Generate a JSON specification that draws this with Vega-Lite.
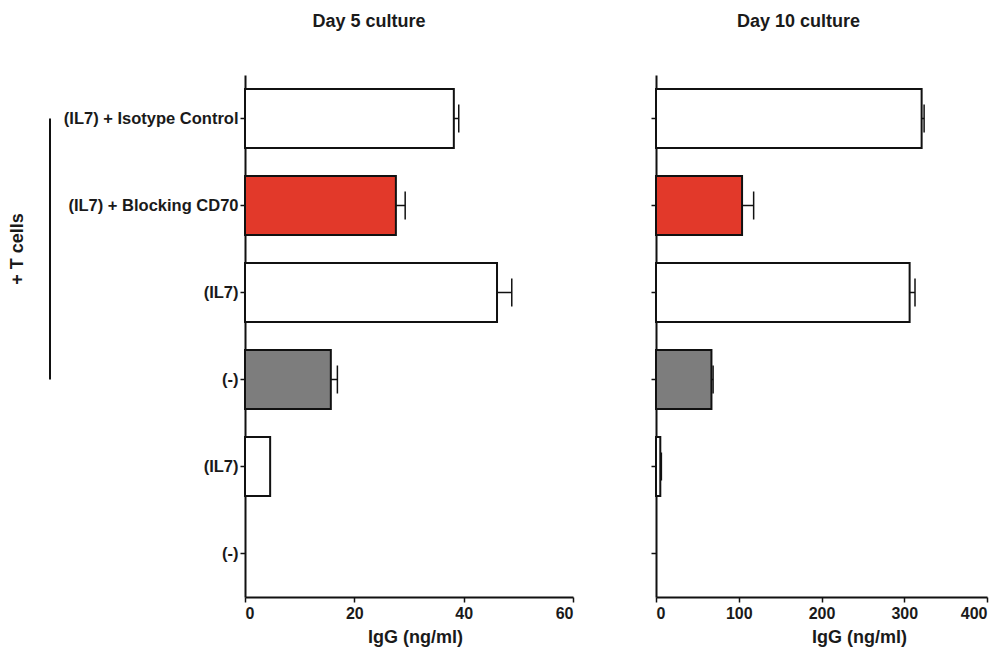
{
  "$schema": "https://vega.github.io/schema/vega-lite/v6.json",
  "padding": {"left": 9, "top": 13, "right": 5, "bottom": 5},
  "config": {
    "view": {"stroke": null},
    "font": "Liberation Sans",
    "axis": {"domainColor": "#111111", "domainWidth": 2, "tickColor": "#111111", "tickWidth": 1.5, "tickSize": 5, "labelFont": "Liberation Sans", "labelFontWeight": "bold", "labelColor": "#1a1a1a", "titleFont": "Liberation Sans", "titleFontWeight": "bold", "titleColor": "#1a1a1a", "grid": false},
    "title": {"font": "Liberation Sans", "fontWeight": "bold", "fontSize": 18, "color": "#1a1a1a"}
  },
  "datasets": {
    "day5": [
      {"row": 1, "value": 38.2, "err": 39.1, "kind": "plain"},
      {"row": 2, "value": 27.6, "err": 29.3, "kind": "blocking"},
      {"row": 3, "value": 46.1, "err": 48.8, "kind": "plain"},
      {"row": 4, "value": 15.7, "err": 16.9, "kind": "none"},
      {"row": 5, "value": 4.6, "err": 4.6, "kind": "plain"},
      {"row": 6, "value": 0, "err": 0, "kind": "plain"}
    ],
    "day10": [
      {"row": 1, "value": 321, "err": 324, "kind": "plain"},
      {"row": 2, "value": 104, "err": 118, "kind": "blocking"},
      {"row": 3, "value": 306.5, "err": 313, "kind": "plain"},
      {"row": 4, "value": 67, "err": 69, "kind": "none"},
      {"row": 5, "value": 5.2, "err": 6.5, "kind": "plain"},
      {"row": 6, "value": 0, "err": 0, "kind": "plain"}
    ],
    "group": [{"label": "+ T cells", "start": 0.5, "end": 3.5, "mid": 2, "pos": 0, "line": 1}]
  },
  "spacing": 12,
  "hconcat": [
    {
      "width": 32,
      "height": 522,
      "data": {"name": "group"},
      "layer": [
        {
          "mark": {"type": "rule", "stroke": "#111111", "strokeWidth": 2},
          "encoding": {
            "x": {"field": "line", "type": "quantitative", "scale": {"domain": [0, 1], "nice": false}, "axis": null},
            "y": {"field": "start", "type": "quantitative", "scale": {"domain": [0, 6], "nice": false, "reverse": true}, "axis": null},
            "y2": {"field": "end"}
          }
        },
        {
          "mark": {"type": "text", "angle": 270, "fontSize": 18, "fontWeight": "bold", "font": "Liberation Sans", "color": "#1a1a1a", "align": "center", "baseline": "middle"},
          "encoding": {
            "x": {"field": "pos", "type": "quantitative", "scale": {"domain": [0, 1], "nice": false}, "axis": null},
            "y": {"field": "mid", "type": "quantitative", "scale": {"domain": [0, 6], "nice": false, "reverse": true}, "axis": null},
            "text": {"field": "label"}
          }
        }
      ]
    },
    {
      "spacing": 76,
      "hconcat": [
        {
          "width": 328,
          "height": 522,
          "title": {"text": "Day 5 culture", "offset": 44, "dx": -40, "frame": "group"},
          "data": {"name": "day5"},
          "encoding": {
            "y": {"field": "row", "type": "ordinal", "scale": {"paddingInner": 0.32, "paddingOuter": 0.16},
              "axis": {"title": null, "labelExpr": "['(IL7) + Isotype Control','(IL7) + Blocking CD70','(IL7)','(-)','(IL7)','(-)'][datum.value-1]", "labelFontSize": 16.5, "labelPadding": 2}}
          },
          "layer": [
            {
              "mark": {"type": "bar", "stroke": "#111111", "strokeWidth": 2},
              "encoding": {
                "x": {"field": "value", "type": "quantitative", "scale": {"domain": [0, 60], "nice": false},
                  "axis": {"values": [0, 20, 40, 60], "title": "IgG (ng/ml)", "labelFontSize": 16, "titleFontSize": 18, "labelPadding": 3, "titlePadding": 7, "titleX": 170}},
                "fill": {"field": "kind", "type": "nominal", "scale": {"domain": ["plain", "blocking", "none"], "range": ["#ffffff", "#e2392a", "#7d7d7d"]}, "legend": null},
                "strokeOpacity": {"condition": {"test": "datum.value > 0", "value": 1}, "value": 0}
              }
            },
            {
              "transform": [{"filter": "datum.err > datum.value"}],
              "mark": {"type": "rule", "stroke": "#111111", "strokeWidth": 1.5},
              "encoding": {"x": {"field": "value", "type": "quantitative"}, "x2": {"field": "err"}}
            },
            {
              "transform": [{"filter": "datum.err > datum.value"}],
              "mark": {"type": "tick", "orient": "vertical", "size": 28, "thickness": 1.5, "color": "#111111", "opacity": 1},
              "encoding": {"x": {"field": "err", "type": "quantitative"}}
            }
          ]
        },
        {
          "width": 331,
          "height": 522,
          "title": {"text": "Day 10 culture", "offset": 44, "dx": -23, "frame": "group"},
          "data": {"name": "day10"},
          "encoding": {
            "y": {"field": "row", "type": "ordinal", "scale": {"paddingInner": 0.32, "paddingOuter": 0.16},
              "axis": {"title": null, "labels": false}}
          },
          "layer": [
            {
              "mark": {"type": "bar", "stroke": "#111111", "strokeWidth": 2},
              "encoding": {
                "x": {"field": "value", "type": "quantitative", "scale": {"domain": [0, 400], "nice": false},
                  "axis": {"values": [0, 100, 200, 300, 400], "title": "IgG (ng/ml)", "labelFontSize": 16, "titleFontSize": 18, "labelPadding": 3, "titlePadding": 7, "titleX": 203}},
                "fill": {"field": "kind", "type": "nominal", "scale": {"domain": ["plain", "blocking", "none"], "range": ["#ffffff", "#e2392a", "#7d7d7d"]}, "legend": null},
                "strokeOpacity": {"condition": {"test": "datum.value > 0", "value": 1}, "value": 0}
              }
            },
            {
              "transform": [{"filter": "datum.err > datum.value"}],
              "mark": {"type": "rule", "stroke": "#111111", "strokeWidth": 1.5},
              "encoding": {"x": {"field": "value", "type": "quantitative"}, "x2": {"field": "err"}}
            },
            {
              "transform": [{"filter": "datum.err > datum.value"}],
              "mark": {"type": "tick", "orient": "vertical", "size": 28, "thickness": 1.5, "color": "#111111", "opacity": 1},
              "encoding": {"x": {"field": "err", "type": "quantitative"}}
            }
          ]
        }
      ]
    }
  ]
}
